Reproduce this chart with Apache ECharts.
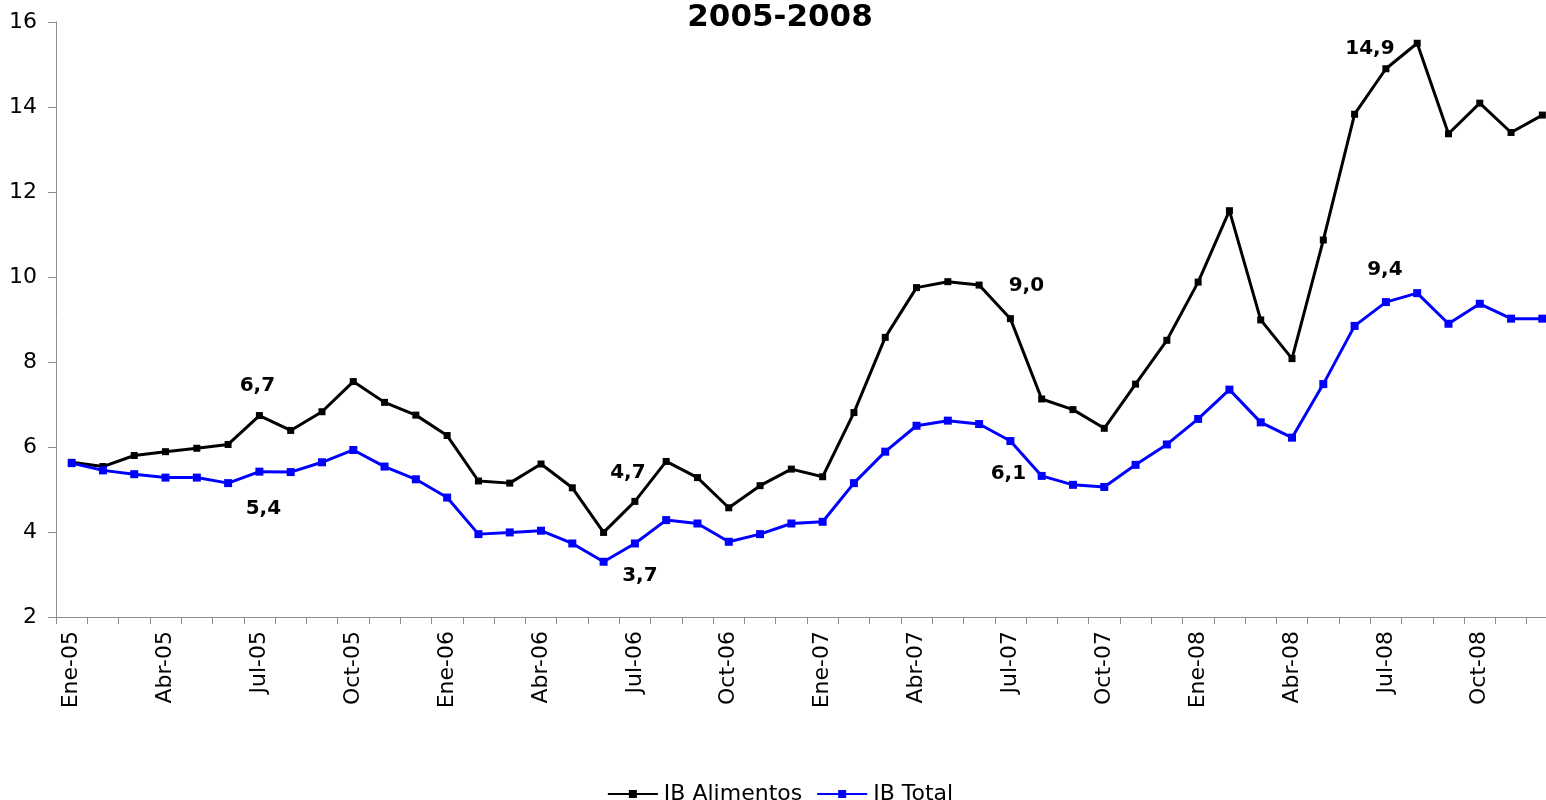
<!DOCTYPE html>
<html>
<head>
<meta charset="utf-8">
<script src="https://cdn.jsdelivr.net/npm/echarts@6/dist/echarts.min.js"></script>
<style>
  html, body { margin: 0; padding: 0; overflow: hidden; background: #fff; }
  #chart { width: 1560px; height: 800px; }
</style>
</head>
<body>
<div id="chart"></div>
<script>
// meses ene-05 .. dic-08
const meses = ['Ene', 'Feb', 'Mar', 'Abr', 'May', 'Jun', 'Jul', 'Ago', 'Sep', 'Oct', 'Nov', 'Dic']
const anios = ['05', '06', '07', '08']
const categorias = []
anios.forEach(a => meses.forEach(m => categorias.push(m + '-' + a)))

const ibAlimentos = [
  5.64, 5.54, 5.8, 5.89, 5.97, 6.06, 6.74, 6.39, 6.83, 7.54, 7.05, 6.75,
  6.27, 5.2, 5.15, 5.6, 5.04, 3.99, 4.72, 5.66, 5.28, 4.57, 5.09, 5.48,
  5.3, 6.81, 8.58, 9.75, 9.89, 9.81, 9.02, 7.13, 6.88, 6.44, 7.48, 8.51,
  9.88, 11.56, 8.99, 8.08, 10.87, 13.83, 14.9, 15.5, 13.37, 14.09, 13.4, 13.81
]
const ibTotal = [
  5.62, 5.45, 5.36, 5.28, 5.28, 5.15, 5.42, 5.41, 5.64, 5.93, 5.54, 5.24,
  4.81, 3.95, 3.99, 4.03, 3.73, 3.3, 3.73, 4.28, 4.2, 3.77, 3.95, 4.2,
  4.24, 5.15, 5.89, 6.5, 6.62, 6.54, 6.14, 5.32, 5.11, 5.06, 5.58, 6.06,
  6.66, 7.35, 6.58, 6.22, 7.48, 8.85, 9.41, 9.62, 8.9, 9.37, 9.02, 9.02
]

// which points carry a value label, and where the text sits (px offset from point)
const etiquetasAlimentos = { 6: [-2, -30], 18: [-7, -29], 30: [16, -33], 42: [-16, -20] }
const etiquetasTotal = { 6: [4, 37], 18: [5, 32], 30: [-2, 33], 42: [-1, -32] }

const fuente = 'DejaVu Sans'

function conEtiquetas(valores, etiquetas) {
  return valores.map((v, i) => {
    if (!etiquetas[i]) return v
    return {
      value: v,
      label: {
        show: true,
        position: 'inside',
        offset: etiquetas[i],
        formatter: p => p.value.toFixed(1).replace('.', ','),
        color: '#000',
        fontFamily: fuente,
        fontWeight: 'bold',
        fontSize: 20
      }
    }
  })
}

const chart = echarts.init(document.getElementById('chart'))
const option = {
  animation: false,
  backgroundColor: '#fff',
  title: {
    text: '2005-2008',
    left: 'center',
    top: -3,
    textStyle: {
      fontFamily: fuente,
      fontWeight: 'bold',
      fontSize: 31,
      color: '#000'
    }
  },
  legend: {
    data: ['IB Alimentos', 'IB Total'],
    top: 778,
    left: 'center',
    itemWidth: 50,
    itemHeight: 10,
    itemGap: 14,
    textStyle: {
      fontFamily: fuente,
      fontSize: 22,
      color: '#000',
      padding: [0, 0, 0, 1]
    }
  },
  grid: {
    left: 56,
    right: 2,
    top: 22,
    bottom: 183,
    containLabel: false
  },
  xAxis: {
    type: 'category',
    boundaryGap: true,
    data: categorias,
    axisLine: { show: true, lineStyle: { color: '#8c8c8c', width: 1 } },
    axisTick: { show: true, interval: 0, length: 7, lineStyle: { color: '#8c8c8c' } },
    axisLabel: {
      interval: 2,
      rotate: 90,
      margin: 14,
      fontFamily: fuente,
      fontSize: 22,
      color: '#000'
    },
    splitLine: { show: false }
  },
  yAxis: {
    type: 'value',
    min: 2,
    max: 16,
    interval: 2,
    axisLine: { show: true, lineStyle: { color: '#8c8c8c', width: 1 } },
    axisTick: { show: true, length: 8, lineStyle: { color: '#8c8c8c' } },
    axisLabel: {
      margin: 19,
      fontFamily: fuente,
      fontSize: 22,
      color: '#000'
    },
    splitLine: { show: false }
  },
  series: [
    {
      name: 'IB Alimentos',
      type: 'line',
      data: conEtiquetas(ibAlimentos, etiquetasAlimentos),
      symbol: 'rect',
      symbolSize: 7,
      showAllSymbol: true,
      color: '#000000',
      lineStyle: { color: '#000000', width: 3 },
      itemStyle: { color: '#000000' }
    },
    {
      name: 'IB Total',
      type: 'line',
      data: conEtiquetas(ibTotal, etiquetasTotal),
      symbol: 'rect',
      symbolSize: 8,
      showAllSymbol: true,
      color: '#0000ff',
      lineStyle: { color: '#0000ff', width: 3 },
      itemStyle: { color: '#0000ff' }
    }
  ]
}
chart.setOption(option)
</script>
</body>
</html>
